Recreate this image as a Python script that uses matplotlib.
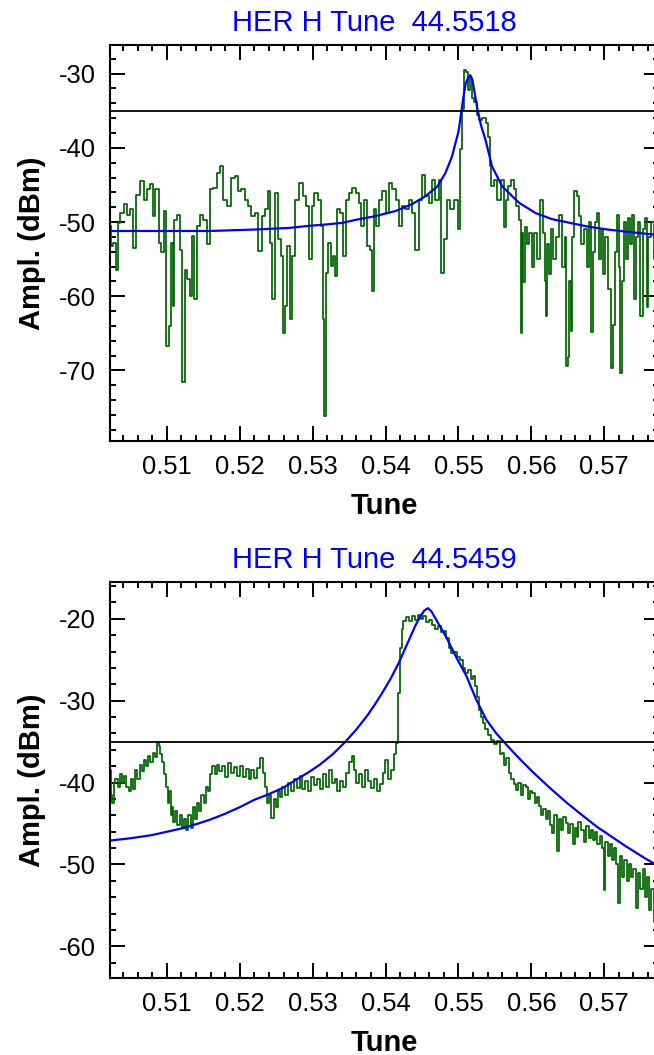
import matplotlib
matplotlib.use("Agg")
from matplotlib import pyplot as plt
from matplotlib.ticker import MultipleLocator, FormatStrFormatter

plt.rcParams['font.family'] = ['Liberation Sans', 'DejaVu Sans']
plt.rcParams['axes.unicode_minus'] = False

titles = ["HER H Tune  44.5518", "HER H Tune  44.5459"]
threshold = -35

# measured spectrum, upper plot
tune_top = [
    0.50227, 0.50250, 0.50273, 0.50318, 0.50341, 0.50386, 0.50432, 0.50477, 0.50523, 0.50555,
    0.50591, 0.50659, 0.50705, 0.50750, 0.50795, 0.50818, 0.50864, 0.50909, 0.50932, 0.50977,
    0.51009, 0.51036, 0.51068, 0.51091, 0.51114, 0.51159, 0.51191, 0.51227, 0.51264, 0.51295,
    0.51327, 0.51355, 0.51400, 0.51432, 0.51477, 0.51523, 0.51568, 0.51614, 0.51659, 0.51705,
    0.51750, 0.51795, 0.51841, 0.51909, 0.51955, 0.52000, 0.52045, 0.52091, 0.52136, 0.52182,
    0.52227, 0.52282, 0.52318, 0.52364, 0.52400, 0.52432, 0.52464, 0.52500, 0.52545, 0.52582,
    0.52614, 0.52636, 0.52673, 0.52705, 0.52736, 0.52773, 0.52841, 0.52886, 0.52932, 0.52968,
    0.53000, 0.53045, 0.53091, 0.53127, 0.53145, 0.53164, 0.53191, 0.53227, 0.53264, 0.53295,
    0.53318, 0.53355, 0.53400, 0.53445, 0.53477, 0.53523, 0.53568, 0.53614, 0.53645, 0.53682,
    0.53727, 0.53773, 0.53800, 0.53823, 0.53850, 0.53886, 0.53932, 0.53977, 0.54023, 0.54068,
    0.54114, 0.54159, 0.54205, 0.54250, 0.54295, 0.54341, 0.54386, 0.54432, 0.54477, 0.54523,
    0.54568, 0.54614, 0.54659, 0.54705, 0.54750, 0.54782, 0.54818, 0.54864, 0.54909, 0.54964,
    0.55009, 0.55032, 0.55055, 0.55091, 0.55123, 0.55145, 0.55168, 0.55200, 0.55236, 0.55259,
    0.55305, 0.55350, 0.55396, 0.55418, 0.55441, 0.55464, 0.55510, 0.55555, 0.55600, 0.55637,
    0.55668, 0.55700, 0.55737, 0.55773, 0.55805, 0.55850, 0.55860, 0.55880, 0.55900, 0.55920,
    0.55950, 0.55990, 0.56020, 0.56060, 0.56100, 0.56140, 0.56170, 0.56190, 0.56210, 0.56230,
    0.56260, 0.56280, 0.56320, 0.56360, 0.56400, 0.56440, 0.56470, 0.56490, 0.56510, 0.56530,
    0.56550, 0.56570, 0.56600, 0.56640, 0.56670, 0.56700, 0.56740, 0.56780, 0.56810, 0.56830,
    0.56860, 0.56890, 0.56910, 0.56940, 0.56970, 0.57000, 0.57030, 0.57070, 0.57110, 0.57130,
    0.57160, 0.57190, 0.57210, 0.57230, 0.57250, 0.57280, 0.57310, 0.57340, 0.57370, 0.57400,
    0.57420, 0.57450, 0.57480, 0.57510, 0.57540, 0.57570, 0.57590, 0.57620, 0.57660, 0.57700,
    0.57750,
]
ampl_top = [
    -50.5, -53.2, -52.8, -56.4, -50.1, -48.8, -47.6, -49.0, -48.3, -53.5,
    -46.3, -44.5, -47.0, -45.6, -44.9, -49.2, -45.6, -52.8, -54.1, -48.5,
    -66.7, -64.0, -52.8, -61.3, -49.7, -49.0, -53.7, -71.6, -56.4, -57.7,
    -60.0, -51.9, -60.4, -50.5, -49.0, -49.7, -53.0, -45.6, -45.4, -43.4,
    -42.5, -47.0, -47.9, -44.0, -43.8, -45.8, -45.6, -47.0, -47.9, -49.2,
    -48.8, -53.9, -49.2, -48.3, -45.8, -52.8, -60.4, -46.1, -52.3, -54.6,
    -64.9, -61.3, -53.2, -63.1, -54.6, -47.0, -44.7, -46.5, -47.9, -55.0,
    -47.9, -46.1, -47.0, -50.5, -63.1, -76.1, -56.8, -52.8, -55.9, -54.6,
    -57.3, -48.3, -48.8, -54.6, -47.0, -46.1, -45.4, -46.1, -47.4, -50.5,
    -47.0, -53.2, -53.7, -59.3, -48.3, -50.5, -47.0, -45.8, -48.8, -44.7,
    -45.6, -47.0, -50.5, -47.9, -48.3, -47.0, -48.8, -53.7, -47.0, -43.6,
    -46.5, -47.4, -44.3, -47.0, -44.3, -56.8, -52.3, -47.0, -48.3, -47.0,
    -51.0, -40.2, -34.8, -29.5, -29.8, -32.2, -30.6, -33.3, -33.8, -35.6,
    -36.3, -36.0, -36.7, -38.5, -42.5, -45.2, -44.3, -47.0, -44.3, -50.6,
    -47.0, -45.2, -44.3, -45.6, -47.9, -49.7, -64.9, -51.5, -58.1, -50.6,
    -53.0, -51.5, -56.0, -51.5, -55.0, -47.0, -51.5, -58.0, -62.7, -53.0,
    -57.0, -51.0, -55.0, -52.0, -49.0, -56.0, -52.0, -69.4, -68.2, -58.0,
    -64.7, -52.0, -45.8, -46.5, -49.2, -53.0, -51.0, -56.0, -50.0, -64.8,
    -54.0, -50.0, -48.8, -55.0, -51.0, -57.0, -52.0, -59.0, -69.6, -63.9,
    -54.0, -49.0, -56.0, -70.3, -58.0, -50.0, -55.0, -49.5, -53.0, -49.0,
    -60.4, -52.0, -50.0, -62.7, -51.0, -49.5, -61.4, -52.0, -50.0, -55.0,
    -51.0,
]

# fitted resonance curve, upper plot
fit_tune_top = [
    0.5020, 0.5159, 0.5222, 0.5266, 0.5296, 0.5321, 0.5341, 0.5359, 0.5386, 0.5414,
    0.5436, 0.5455, 0.5471, 0.5482, 0.5491, 0.5500, 0.5503, 0.5507, 0.5510, 0.5513,
    0.5516, 0.5519, 0.5522, 0.5526, 0.5531, 0.5537, 0.5546, 0.5560, 0.5583, 0.5606,
    0.5628, 0.5677, 0.5704, 0.5740, 0.5780,
]
fit_ampl_top = [
    -51.2, -51.2, -51.0, -50.8, -50.5, -50.3, -50.1, -49.7, -49.2, -48.5,
    -47.6, -46.5, -45.2, -43.4, -41.2, -37.8, -35.8, -33.0, -31.3, -30.6,
    -30.2, -30.8, -32.5, -34.8, -37.0, -38.9, -42.5, -45.2, -47.4, -48.8,
    -49.6, -50.6, -51.0, -51.4, -51.8,
]

# measured spectrum, lower plot
tune_bot = [
    0.5020, 0.5022, 0.5024, 0.5026, 0.5028, 0.5031, 0.5034, 0.5037, 0.5040, 0.5043,
    0.5046, 0.5049, 0.5052, 0.5055, 0.5058, 0.5061, 0.5064, 0.5067, 0.5070, 0.5073,
    0.5076, 0.5079, 0.5082, 0.5085, 0.5088, 0.5090, 0.5092, 0.5095, 0.5098, 0.5100,
    0.5102, 0.5104, 0.5106, 0.5108, 0.5110, 0.5113, 0.5116, 0.5119, 0.5122, 0.5125,
    0.5128, 0.5131, 0.5134, 0.5137, 0.5140, 0.5143, 0.5146, 0.5149, 0.5152, 0.5155,
    0.5158, 0.5161, 0.5164, 0.5167, 0.5170, 0.5174, 0.5178, 0.5182, 0.5186, 0.5190,
    0.5194, 0.5198, 0.5202, 0.5206, 0.5210, 0.5214, 0.5218, 0.5222, 0.5226, 0.5230,
    0.5233, 0.5236, 0.5239, 0.5242, 0.5245, 0.5248, 0.5251, 0.5254, 0.5257, 0.5260,
    0.5264, 0.5268, 0.5272, 0.5276, 0.5280, 0.5284, 0.5288, 0.5292, 0.5296, 0.5300,
    0.5304, 0.5308, 0.5312, 0.5316, 0.5320, 0.5324, 0.5328, 0.5332, 0.5336, 0.5340,
    0.5344, 0.5348, 0.5352, 0.5355, 0.5358, 0.5362, 0.5366, 0.5370, 0.5374, 0.5378,
    0.5382, 0.5386, 0.5390, 0.5394, 0.5398, 0.5401, 0.5405, 0.5409, 0.5413, 0.5416,
    0.5419, 0.5421, 0.5423, 0.5426, 0.5430, 0.5434, 0.5438, 0.5442, 0.5446, 0.5450,
    0.5454, 0.5458, 0.5462, 0.5466, 0.5470, 0.5474, 0.5478, 0.5482, 0.5485, 0.5488,
    0.5492, 0.5496, 0.5500, 0.5504, 0.5508, 0.5511, 0.5515, 0.5518, 0.5521, 0.5524,
    0.5527, 0.5529, 0.5532, 0.5534, 0.5538, 0.5542, 0.5547, 0.5551, 0.5555, 0.5558,
    0.5561, 0.5564, 0.5567, 0.5571, 0.5574, 0.5577, 0.5580, 0.5584, 0.5587, 0.5590,
    0.5594, 0.5597, 0.5600, 0.5603, 0.5606, 0.5609, 0.5612, 0.5615, 0.5618, 0.5621,
    0.5624, 0.5627, 0.5630, 0.5633, 0.5636, 0.5639, 0.5642, 0.5645, 0.5649, 0.5652,
    0.5655, 0.5658, 0.5661, 0.5663, 0.5666, 0.5670, 0.5673, 0.5677, 0.5680, 0.5683,
    0.5686, 0.5689, 0.5692, 0.5695, 0.5698, 0.5700, 0.5703, 0.5706, 0.5709, 0.5712,
    0.5715, 0.5718, 0.5720, 0.5723, 0.5726, 0.5729, 0.5732, 0.5735, 0.5738, 0.5741,
    0.5745, 0.5748, 0.5751, 0.5754, 0.5757, 0.5760, 0.5763, 0.5766, 0.5769, 0.5772,
    0.5775,
]
ampl_bot = [
    -40.0, -38.5, -41.5, -42.5, -40.0, -39.5, -40.5, -39.0, -40.0, -39.2,
    -40.5, -41.0, -39.5, -40.8, -38.5, -39.5, -37.8, -38.6, -37.2, -38.0,
    -36.8, -37.5, -36.4, -36.9, -35.0, -35.5, -36.5, -37.5, -39.0, -40.5,
    -42.5, -41.0, -44.0, -43.0, -44.8, -43.5, -45.2, -44.0, -45.5, -44.5,
    -45.8, -44.0, -45.5, -43.0, -44.5, -42.5, -43.5, -41.5, -42.5, -40.5,
    -41.0, -39.0, -38.0, -39.0, -37.8, -38.6, -38.0, -39.3, -37.6, -38.8,
    -38.1, -39.2, -38.0, -39.3, -38.3, -39.5, -38.5, -39.4, -38.2, -37.0,
    -38.8, -40.5, -42.5, -41.5, -44.3, -42.0, -43.0, -41.0, -41.8, -40.5,
    -41.5, -40.0, -41.0, -39.5, -40.6, -39.2, -40.8, -39.8, -41.0, -39.3,
    -40.3, -39.5, -40.8, -39.0, -40.5, -38.5, -40.0, -39.6, -41.0, -39.8,
    -40.5, -38.8, -37.5, -36.8, -38.5, -40.0, -39.0, -40.5, -38.5, -39.8,
    -40.6, -39.5, -41.0, -40.2, -38.8, -37.2, -39.5, -38.5, -36.5, -35.2,
    -29.0, -23.5, -21.3, -20.3, -19.8, -20.3, -19.6, -20.2, -19.5, -20.0,
    -19.7, -20.4, -20.1, -20.8, -21.2, -20.9, -21.6, -21.5, -22.3, -23.5,
    -24.2, -24.0, -24.6, -25.0, -26.0, -26.6, -26.2, -27.4, -27.0, -28.2,
    -29.5, -31.1, -32.0, -32.7, -33.5, -34.2, -34.8, -35.3, -34.9, -36.5,
    -36.4, -37.8, -37.0, -38.8, -39.5, -40.2, -40.9, -40.0, -41.5, -40.3,
    -40.5, -42.0, -41.0, -41.3, -42.5, -41.8, -42.9, -44.0, -43.2, -44.5,
    -43.5, -45.2, -46.1, -44.0, -48.4, -44.5, -45.8, -44.2, -44.9, -46.2,
    -45.0, -47.5, -45.5, -46.6, -44.8, -45.8, -47.2, -45.3, -46.8, -45.8,
    -47.0, -46.0, -47.5, -46.5, -48.0, -53.1, -47.2, -49.0, -47.5, -49.5,
    -48.0, -50.0, -54.7, -49.0, -51.5, -49.5, -52.0, -50.0, -51.5, -50.5,
    -55.3, -51.0, -53.0, -50.5, -54.0, -51.5, -55.5, -53.0, -57.0, -55.0,
    -60.8,
]

# fitted resonance curve, lower plot
fit_tune_bot = [
    0.5020, 0.5050, 0.5080, 0.5100, 0.5120, 0.5143, 0.5160, 0.5180, 0.5200, 0.5220,
    0.5240, 0.5260, 0.5280, 0.5295, 0.5310, 0.5328, 0.5345, 0.5360, 0.5375, 0.5385,
    0.5395, 0.5407, 0.5418, 0.5427, 0.5435, 0.5441, 0.5447, 0.5453, 0.5458, 0.5463,
    0.5470, 0.5483, 0.5497, 0.5511, 0.5524, 0.5538, 0.5552, 0.5566, 0.5585, 0.5603,
    0.5626, 0.5649, 0.5670, 0.5690, 0.5710, 0.5730, 0.5755, 0.5780,
]
fit_ampl_bot = [
    -47.1, -46.8, -46.4, -46.0, -45.6, -45.0, -44.5, -43.8, -43.0, -42.1,
    -41.4, -40.6, -39.5, -38.7, -37.8, -36.5, -35.0, -33.5, -31.8, -30.5,
    -29.1, -27.3, -25.4, -23.6, -22.0, -20.8, -19.8, -19.0, -18.7, -19.1,
    -20.2, -22.2, -24.7, -27.0, -29.8, -32.3, -34.0, -35.4, -37.2, -38.8,
    -40.7, -42.5, -44.0, -45.4, -46.6, -47.8, -49.2, -50.5,
]

panels = [
    (tune_top, ampl_top, fit_tune_top, fit_ampl_top, (-79.5, -26.1), 0.58199),
    (tune_bot, ampl_bot, fit_tune_bot, fit_ampl_bot, (-63.9, -15.5), 0.07270),
]

fig = plt.figure(figsize=(6.54, 10.55), dpi=100)

for (tx, ty, fx, fy, ylim, bottom), title in zip(panels, titles):
    ax = fig.add_axes([0.1682, bottom, 0.8394, 0.37564])
    ax.plot(tx, ty, color='#006400', lw=1.25, drawstyle='steps-mid')
    ax.plot(fx, fy, color='#0000ff', lw=1.6)
    ax.axhline(threshold, color='black', lw=1.3)

    ax.set_xlim(0.5022, 0.5775)
    ax.set_ylim(*ylim)
    ax.xaxis.set_major_locator(MultipleLocator(0.01))
    ax.xaxis.set_minor_locator(MultipleLocator(0.002))
    ax.xaxis.set_major_formatter(FormatStrFormatter('%.2f'))
    ax.yaxis.set_major_locator(MultipleLocator(10))
    ax.yaxis.set_minor_locator(MultipleLocator(2))
    ax.yaxis.set_major_formatter(FormatStrFormatter('%d'))

    ax.tick_params(which='both', direction='in', top=True, right=True, width=1.4)
    ax.tick_params(which='major', length=11, pad=10, labelsize=18.4)
    ax.tick_params(which='minor', length=4.5)
    for sp in ax.spines.values():
        sp.set_linewidth(1.5)

    ax.set_title(title, color='#0000ff', fontsize=21, x=0.482, pad=10)
    ax.set_xlabel('Tune', fontsize=21, fontweight='bold')
    ax.set_ylabel('Ampl. (dBm)', fontsize=21, fontweight='bold')
    ax.xaxis.set_label_coords(0.5, -0.128)
    ax.yaxis.set_label_coords(-0.117, 0.5)

plt.savefig('out.png', dpi=100)
